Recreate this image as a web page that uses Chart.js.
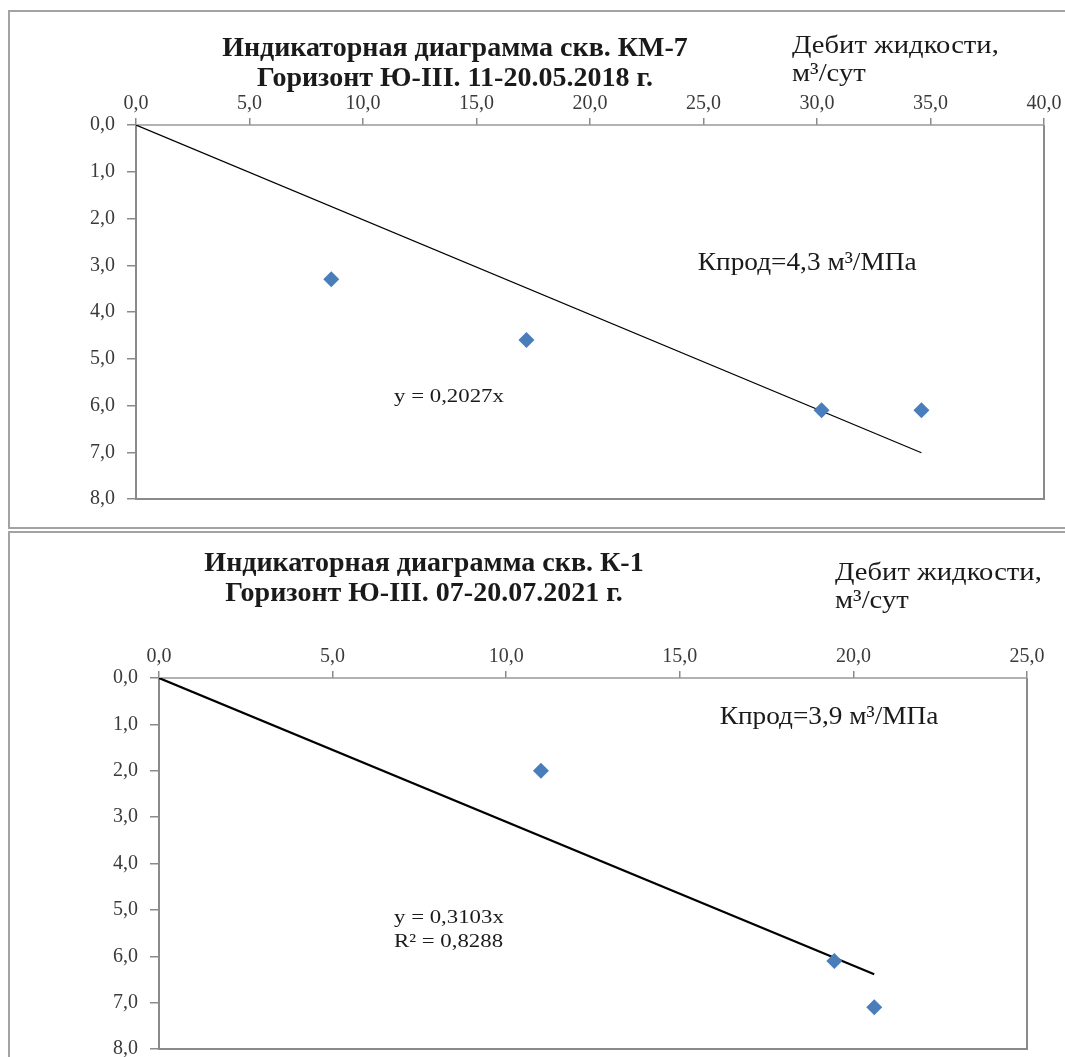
<!DOCTYPE html>
<html>
<head>
<meta charset="utf-8">
<script src="https://cdn.jsdelivr.net/npm/chart.js@4.4.0/dist/chart.umd.min.js"></script>
<style>
  body { margin: 0; background: #fff; width: 1065px; height: 1057px; overflow: hidden; position: relative;
         font-family: "Liberation Serif", "Times New Roman", serif; color: #1a1a1a; }
  .frame { position: absolute; left: 8px; border: 2px solid #a3a3a3; border-right: none; box-sizing: border-box; }
  #frame1 { top: 10px; width: 1060px; height: 519px; }
  #frame2 { top: 531px; width: 1060px; height: 540px; border-bottom: none; }
  .cv { position: absolute; left: 0; }
  #c1 { top: 0; }
  #c2 { top: 530px; }
  .title { position: absolute; font-weight: bold; font-size: 28px; line-height: 30px; text-align: center; white-space: nowrap; }
  .units { position: absolute; font-size: 26px; line-height: 28px; white-space: nowrap;
           transform: scaleX(1.1); transform-origin: left top; }
</style>
</head>
<body>
<div class="frame" id="frame1"></div>
<div class="frame" id="frame2"></div>
<canvas class="cv" id="c1" width="1065" height="530"></canvas>
<canvas class="cv" id="c2" width="1065" height="560"></canvas>

<div class="title" style="left:155px; width:600px; top:32px;">Индикаторная диаграмма скв. КМ-7<br>Горизонт Ю-III. 11-20.05.2018 г.</div>
<div class="units" style="left:792px; top:31px;">Дебит жидкости,<br>м³/сут</div>

<div class="title" style="left:124px; width:600px; top:547px;">Индикаторная диаграмма скв. К-1<br>Горизонт Ю-III. 07-20.07.2021 г.</div>
<div class="units" style="left:835px; top:558px;">Дебит жидкости,<br>м³/сут</div>

<script>
// скв. КМ-7: дебит жидкости (м3/сут) и депрессия (МПа)
const km7Rate = [8.6, 17.2, 30.2, 34.6];
const km7Drawdown = [3.3, 4.6, 6.1, 6.1];
const km7TrendX = [0, 34.6];
const km7TrendY = [0, 7.01];

// скв. К-1
const k1Rate = [11.0, 19.45, 20.6];
const k1Drawdown = [2.0, 6.1, 7.1];
const k1TrendX = [0, 20.6];
const k1TrendY = [0, 6.39];

const markerColor = '#4a7ebb';
const axisGray = '#8a8a8a';
const tickFont = { family: 'Liberation Serif', size: 20 };

const fmt = v => Number(v).toFixed(1).replace('.', ',');
const pairs = (xs, ys) => xs.map((x, i) => ({ x, y: ys[i] }));

// Rahmen der Zeichenfläche + Beschriftungen im Diagramm
const plotDecor = {
  id: 'plotDecor',
  beforeDatasetsDraw(chart) {
    const { ctx, chartArea: a } = chart;
    ctx.save();
    ctx.strokeStyle = axisGray;
    ctx.lineWidth = 2;
    ctx.beginPath();
    ctx.moveTo(a.left, a.top);
    ctx.lineTo(a.left, a.bottom);
    ctx.lineTo(a.right, a.bottom);
    ctx.lineTo(a.right, a.top);
    ctx.stroke();
    ctx.lineWidth = 1.5;
    ctx.strokeStyle = '#999';
    ctx.beginPath();
    ctx.moveTo(a.left, a.top);
    ctx.lineTo(a.right, a.top);
    ctx.stroke();
    ctx.restore();
  },
  afterDatasetsDraw(chart, args, opts) {
    const { ctx, scales } = chart;
    (opts.labels || []).forEach(l => {
      const px = scales.x.getPixelForValue(l.x);
      const py = scales.y.getPixelForValue(l.y);
      ctx.save();
      ctx.fillStyle = '#1a1a1a';
      ctx.textBaseline = 'middle';
      ctx.textAlign = 'left';
      ctx.font = `${l.size}px "Liberation Serif"`;
      ctx.translate(px, py);
      ctx.scale(l.stretch || 1, 1);
      ctx.fillText(l.text, 0, 0);
      ctx.restore();
    });
  }
};

function makeChart(id, rate, drawdown, trendX, trendY, xMax, trendWidth, pad, labels) {
  return new Chart(document.getElementById(id), {
    type: 'scatter',
    data: {
      datasets: [
        {
          label: 'Замеры',
          data: pairs(rate, drawdown),
          pointStyle: 'rectRot',
          pointRadius: 8,
          backgroundColor: markerColor,
          borderColor: markerColor,
          borderWidth: 0
        },
        {
          label: 'Тренд',
          type: 'line',
          data: pairs(trendX, trendY),
          borderColor: '#000',
          borderWidth: trendWidth,
          pointRadius: 0,
          fill: false
        }
      ]
    },
    options: {
      responsive: false,
      animation: false,
      layout: { padding: pad },
      plugins: {
        legend: { display: false },
        tooltip: { enabled: false },
        plotDecor: { labels }
      },
      scales: {
        x: {
          type: 'linear',
          position: 'top',
          min: 0, max: xMax,
          afterFit: s => { s.height = 30; },
          border: { display: false },
          grid: { drawOnChartArea: false, tickLength: 7, color: axisGray, lineWidth: 1.5 },
          ticks: { stepSize: 5, callback: fmt, font: tickFont, color: '#3a3a3a', padding: 2, maxRotation: 0 }
        },
        y: {
          type: 'linear',
          reverse: true,
          min: 0, max: 8,
          afterFit: s => { s.width = 50; },
          border: { display: false },
          grid: { drawOnChartArea: false, tickLength: 9, color: axisGray, lineWidth: 1.5 },
          ticks: { stepSize: 1, callback: fmt, font: tickFont, color: '#3a3a3a', padding: 12 }
        }
      }
    },
    plugins: [plotDecor]
  });
}

makeChart('c1', km7Rate, km7Drawdown, km7TrendX, km7TrendY, 40, 1.2,
  { left: 86, right: 21, top: 95, bottom: 31 },
  [
    { text: 'y = 0,2027x', x: 11.37, y: 5.82, size: 19, stretch: 1.2 },
    { text: 'Кпрод=4,3 м³/МПа', x: 24.75, y: 2.95, size: 26, stretch: 1.05 }
  ]);

makeChart('c2', k1Rate, k1Drawdown, k1TrendX, k1TrendY, 25, 2.2,
  { left: 109, right: 38, top: 118, bottom: 41 },
  [
    { text: 'y = 0,3103x', x: 6.77, y: 5.18, size: 19, stretch: 1.2 },
    { text: 'R² = 0,8288', x: 6.77, y: 5.69, size: 19, stretch: 1.2 },
    { text: 'Кпрод=3,9 м³/МПа', x: 16.15, y: 0.84, size: 26, stretch: 1.05 }
  ]);
</script>
</body>
</html>
